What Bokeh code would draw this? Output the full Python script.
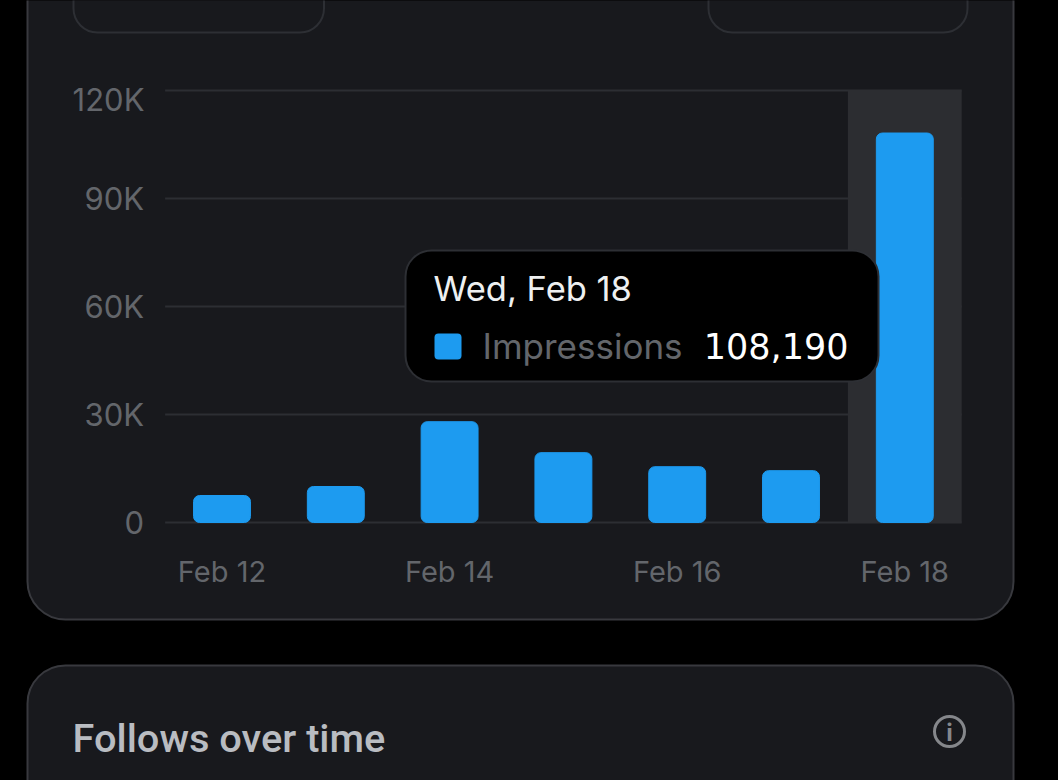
from bokeh.embed import file_html
from bokeh.models import BoxAnnotation, FixedTicker, Label, LinearAxis, Range1d
from bokeh.plotting import figure
from bokeh.resources import INLINE

days = ["Feb 12", "Feb 13", "Feb 14", "Feb 15", "Feb 16", "Feb 17", "Feb 18"]
impressions = [7500, 10000, 28000, 19400, 15500, 14400, 108190]
y_ticks = [0, 30000, 60000, 90000, 120000]
y_labels = ["0", "30K", "60K", "90K", ""]
x_ticks = [0, 2, 4, 6]

W, H = 1058, 780
CARD = "#18191d"
CARD_LINE = "#38393e"
INNER_LINE = "#2d2f34"
GRID = "#2c2e33"
BLUE = "#1d9bf0"
MUTED = "#63666b"
FONT = "Inter"

# the frame fills the canvas, so the ranges run past the data to leave room for the cards
px_x = 113.8
px_y = 120000 / 432
x_start = -221.5 / px_x
y_end = 120000 + 90 * px_y

p = figure(
    width=W, height=H,
    x_range=Range1d(x_start, x_start + W / px_x), y_range=Range1d(y_end - H * px_y, y_end),
    x_axis_location=None, y_axis_location=None,
    min_border=0, toolbar_location=None, output_backend="svg",
    border_fill_color="#000000", background_fill_color="#000000", outline_line_color=None,
)
# cover the page margin so the black runs to the window edge
p.styles = {"position": "fixed", "left": "0", "top": "0", "background": "#000000"}
p.grid.visible = False


def box(left, right, top, bottom, fill, line, radius, level="image", width=2):
    b = BoxAnnotation(
        left=left, right=right, top=H - top, bottom=H - bottom,
        left_units="screen", right_units="screen", top_units="screen", bottom_units="screen",
        fill_color=fill, fill_alpha=1, line_color=line, line_width=width, line_alpha=1,
        border_radius=radius, level=level, editable=False,
    )
    p.add_layout(b)


def text(x, y, s, color, size, align="left", font=FONT, style="normal"):
    p.add_layout(Label(
        x=x, y=H - y, x_units="screen", y_units="screen", text=s, text_color=color,
        text_font=font, text_font_size=f"{size}px", text_font_style=style,
        text_align=align, text_baseline="middle", level="overlay",
    ))


# cards behind the plot
box(27, 1013, -60, 619, CARD, CARD_LINE, 38)
box(27, 1013, 665, 860, CARD, CARD_LINE, 38)
box(73, 323.5, -40, 32, CARD, INNER_LINE, 24)
box(708, 967, -40, 32, CARD, INNER_LINE, 24)

left_edge = -0.5
right_edge = len(days) - 0.5
p.segment(x0=[left_edge] * len(y_ticks), x1=[right_edge] * len(y_ticks), y0=y_ticks, y1=y_ticks,
          line_color=GRID, line_width=2)
p.vbar(x=[len(days) - 1], top=[max(y_ticks)], width=1, color="#2c2d31", line_color=None)
p.vbar(x=list(range(len(days))), top=impressions, width=0.5, color=BLUE, line_color=BLUE,
       line_width=1, border_radius=6)

xax = LinearAxis(fixed_location=0, ticker=FixedTicker(ticks=x_ticks))
xax.major_label_overrides = {t: days[t] for t in x_ticks}
yax = LinearAxis(fixed_location=left_edge, ticker=FixedTicker(ticks=y_ticks))
yax.major_label_overrides = dict(zip(y_ticks, y_labels))
for ax, size in ((xax, "29px"), (yax, "31px")):
    ax.axis_line_color = None
    ax.major_tick_line_color = None
    ax.minor_tick_line_color = None
    ax.major_tick_out = 0
    ax.major_label_text_color = MUTED
    ax.major_label_text_font = FONT
    ax.major_label_text_font_size = size
xax.major_label_standoff = 31
yax.major_label_standoff = 21
p.add_layout(xax, "below")
p.add_layout(yax, "left")

text(144, 99, "120K", MUTED, 31, "right")

# tooltip
box(405, 878, 250, 381, "#000000", "#2d2f34", 26, "overlay")
box(434, 461, 333, 359, BLUE, BLUE, 4, "overlay", 0)
text(433, 288, "Wed, Feb 18", "#eef0f1", 34.5)
text(482, 345, "Impressions", MUTED, 35)
text(848, 345, "108,190", "#ffffff", 35, "right", font="DejaVu Sans")

# next card header
text(72, 737.5, "Follows over time", "#b9bcc1", 39.7, font="Roboto Medium")
box(934, 964, 716, 746, None, "#85878b", 15, "annotation", 3)
text(949, 732, "i", "#85878b", 24, "center", style="bold")

open("out.html", "w").write(file_html(p, INLINE))
